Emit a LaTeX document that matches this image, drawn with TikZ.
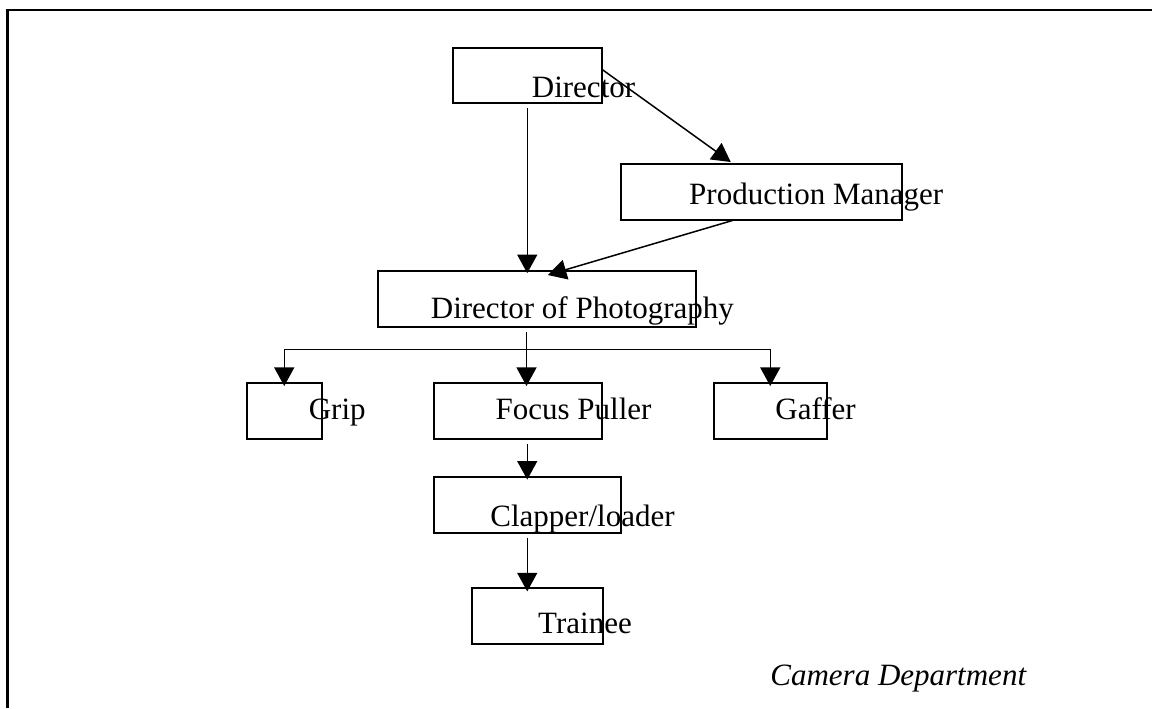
\documentclass[tikz,border=0pt]{standalone}
\usepackage{fontspec}
\setmainfont{Liberation Serif}
\usepackage{tikz}
\usetikzlibrary{arrows.meta}
\tikzstyle{box} = [rectangle, draw=black, line width=0.75pt, inner sep=0pt, anchor=north west, minimum height=28pt]
\tikzstyle{lbl} = [inner sep=0pt, anchor=base west, font=\fontsize{15.5pt}{18pt}\selectfont]
\tikzstyle{line} = [line width=0.75pt]
\tikzstyle{arrow} = [line width=0.75pt,-{Triangle[width=10pt,length=9.3pt]}]
\tikzstyle{frame} = [line width=1.1pt]

\begin{document}
\begin{tikzpicture}[x=0.5pt, y=-0.5pt]
    \useasboundingbox (0,0) rectangle (1152,708);
    \draw [frame] (7.5,708) -- (7.5,10) -- (1152,10);
    \node (dir) [box, minimum width=74.5pt, minimum height=27.5pt] at (452,47) {};
    \node [lbl, shift={(79.5,-6)}] at (dir.south west) {Director};
    \node (pm) [box, minimum width=140.5pt] at (620,163) {};
    \node [lbl, shift={(68.8,-16)}] at (pm.south west) {Production Manager};
    \node (dop) [box, minimum width=159pt] at (377,270) {};
    \node [lbl, shift={(53.5,-9)}] at (dop.south west) {Director of Photography};
    \node (grip) [box, minimum width=37.5pt] at (246,382) {};
    \node [lbl, shift={(62.4,-20)}] at (grip.south west) {Grip};
    \node (foc) [box, minimum width=84pt] at (433,382) {};
    \node [lbl, shift={(62.2,-20)}] at (foc.south west) {Focus Puller};
    \node (gaf) [box, minimum width=56.5pt] at (713,382) {};
    \node [lbl, shift={(62,-20)}] at (gaf.south west) {Gaffer};
    \node (clap) [box, minimum width=93.5pt] at (433,476) {};
    \node [lbl, shift={(57,-7)}] at (clap.south west) {Clapper/loader};
    \node (train) [box, minimum width=65.5pt] at (471,587) {};
    \node [lbl, shift={(66.8,-11)}] at (train.south west) {Trainee};
    \node (dept) [lbl, font=\fontsize{15.5pt}{18pt}\selectfont\itshape] at (770,685.7) {Camera Department};
    \coordinate (split) at (526.5,349.3);
    \draw [arrow] ([yshift=-2.3pt]dir.south) -- ([yshift=-1.6pt]dop.north -| dir.south);
    \draw [arrow] ([yshift=2.75pt]dir.east) -- ([xshift=-15.25pt,yshift=0.5pt]pm.north);
    \draw [arrow] ([xshift=-14.4pt]pm.south) -- ([xshift=5.5pt,yshift=-2.5pt]dop.north);
    \draw [line] ([yshift=-2.3pt]dop.south -| split) -- (split);
    \draw [arrow] (split) -| ([yshift=-2pt]grip.north);
    \draw [arrow] (split) -- ([yshift=-2pt]foc.north -| split);
    \draw [arrow] (split) -| ([yshift=-2pt]gaf.north);
    \draw [arrow] ([yshift=-2.35pt]foc.south -| clap.north) -- ([yshift=-1.8pt]clap.north);
    \draw [arrow] ([yshift=-2pt]clap.south) -- ([yshift=-2.2pt]train.north -| clap.south);
\end{tikzpicture}
\end{document}
